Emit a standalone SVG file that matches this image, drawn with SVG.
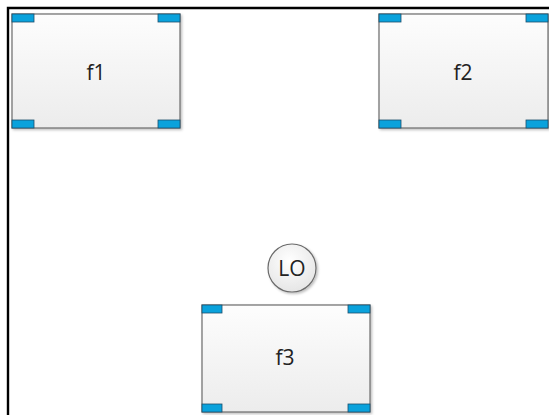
<svg xmlns="http://www.w3.org/2000/svg" width="549" height="415" viewBox="0 0 549 415">
<style>
.box{fill:url(#g);stroke:#6b6b6b;stroke-width:1.2}
.tab{fill:#0aa2dc;stroke:#1c4f6b;stroke-width:0.8}
.lbl{font-family:"Open Sans","Liberation Sans",sans-serif;font-size:21px;fill:#222;text-anchor:middle;dominant-baseline:central}
</style>
<defs>
<linearGradient id="g" x1="0" y1="0" x2="0" y2="1"><stop offset="0" stop-color="#fdfdfd"/><stop offset="1" stop-color="#ececec"/></linearGradient>
<radialGradient id="cg" cx="0.45" cy="0.35" r="0.7"><stop offset="0" stop-color="#ffffff"/><stop offset="1" stop-color="#e4e4e4"/></radialGradient>
<filter id="sh" x="-10%" y="-10%" width="130%" height="130%"><feDropShadow dx="1.5" dy="1.5" stdDeviation="1" flood-color="#000" flood-opacity="0.25"/></filter>
</defs>
<rect width="549" height="415" fill="#fff"/>
<path d="M8 415 V8 H549" fill="none" stroke="#000" stroke-width="2.4"/>
<g id="f1">
<rect class="box" x="12" y="14" width="168" height="114" filter="url(#sh)"/>
<rect class="tab" x="12" y="14" width="22" height="8"/>
<rect class="tab" x="158" y="14" width="22" height="8"/>
<rect class="tab" x="12" y="120" width="22" height="8"/>
<rect class="tab" x="158" y="120" width="22" height="8"/>
<text class="lbl" x="96" y="72">f1</text>
</g>
<g id="f2">
<rect class="box" x="379" y="14" width="169" height="114" filter="url(#sh)"/>
<rect class="tab" x="379" y="14" width="22" height="8"/>
<rect class="tab" x="526" y="14" width="22" height="8"/>
<rect class="tab" x="379" y="120" width="22" height="8"/>
<rect class="tab" x="526" y="120" width="22" height="8"/>
<text class="lbl" x="463" y="72">f2</text>
</g>
<g id="LO">
<circle cx="292" cy="268" r="24" fill="url(#cg)" stroke="#6b6b6b" stroke-width="1.2" filter="url(#sh)"/>
<text class="lbl" x="292" y="268">LO</text>
</g>
<g id="f3">
<rect class="box" x="202" y="305" width="168" height="107" filter="url(#sh)"/>
<rect class="tab" x="202" y="305" width="20" height="8"/>
<rect class="tab" x="348" y="305" width="22" height="8"/>
<rect class="tab" x="202" y="404" width="20" height="8"/>
<rect class="tab" x="348" y="404" width="22" height="8"/>
<text class="lbl" x="285" y="357">f3</text>
</g>
<g id="connectors"/>
</svg>
